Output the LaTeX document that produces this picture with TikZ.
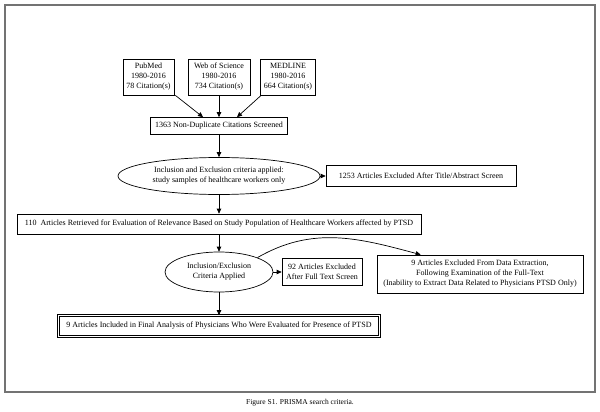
\documentclass[tikz,border=0pt]{standalone}
\usepackage{fontspec}
\setmainfont{Liberation Serif}
\usetikzlibrary{shapes.geometric,arrows.meta}
\begin{document}
\begin{tikzpicture}[x=1pt,y=-1pt,
  box/.style={draw, line width=0.7pt, align=center, inner sep=0pt, font=\fontsize{8}{10}\selectfont},
  ell/.style={draw, ellipse, line width=0.7pt, align=center, inner sep=0pt, font=\fontsize{8}{10}\selectfont},
  arr/.style={-{Triangle[length=5pt,width=4.5pt]}, line width=0.7pt},
  frame/.style={draw=black!55, line width=1.5pt}]
\useasboundingbox (0,0) rectangle (600,412);
\draw[frame] (5,5) rectangle (595,392);
\node[box, minimum width=51pt, minimum height=36pt] (pub) at (148.5,77) {PubMed\\1980-2016\\78 Citation(s)};
\node[box, minimum width=62pt, minimum height=36pt] (wos) at (219,77) {Web of Science\\1980-2016\\734 Citation(s)};
\node[box, minimum width=55pt, minimum height=36pt] (med) at (288,77) {MEDLINE\\1980-2016\\664 Citation(s)};
\node[box, minimum width=137pt, minimum height=17pt] (n1363) at (219,126) {1363 Non-Duplicate Citations Screened};
\node[ell, minimum width=202pt, minimum height=37pt] (ell1) at (219,176) {Inclusion and Exclusion criteria applied:\\study samples of healthcare workers only};
\node[box, minimum width=190pt, minimum height=21pt] (ex1253) at (421,176) {1253 Articles Excluded After Title/Abstract Screen};
\node[box, minimum width=404pt, minimum height=20pt] (n110) at (219,224) {110\ \ Articles Retrieved for Evaluation of Relevance Based on Study Population of Healthcare Workers affected by PTSD};
\node[ell, minimum width=108pt, minimum height=40pt] (ell2) at (219,272) {Inclusion/Exclusion\\Criteria Applied};
\node[box, minimum width=80pt, minimum height=27pt] (ex92) at (322,272) {92 Articles Excluded\\After Full Text Screen};
\node[box, minimum width=206pt, minimum height=38pt] (ex9) at (480,274) {9 Articles Excluded From Data Extraction,\\Following Examination of the Full-Text\\(Inability to Extract Data Related to Physicians PTSD Only)};
\node[box, double, double distance=1.6pt, minimum width=321pt, minimum height=21pt] (final) at (219,326) {9 Articles Included in Final Analysis of Physicians Who Were Evaluated for Presence of PTSD};
\node[font=\fontsize{7.5}{9}\selectfont] (cap) at (300,403) {Figure S1. PRISMA search criteria.};
\draw[arr] ([xshift=1pt]pub.south east) -- ([xshift=-16pt]n1363.north);
\draw[arr] (wos) -- (n1363);
\draw[arr] ([xshift=1pt]med.south west) -- ([xshift=18pt]n1363.north);
\draw[arr] (n1363) -- (ell1);
\draw[arr] (ell1) -- (ex1253);
\draw[arr] (ell1) -- (n110);
\draw[arr] (n110) -- (ell2);
\draw[arr] (ell2) -- (ex92);
\draw[arr] (ell2) -- (final);
\draw[arr] (ell2.north east) to[out=30,in=165] ([xshift=44pt]ex9.north west);
\end{tikzpicture}
\end{document}
